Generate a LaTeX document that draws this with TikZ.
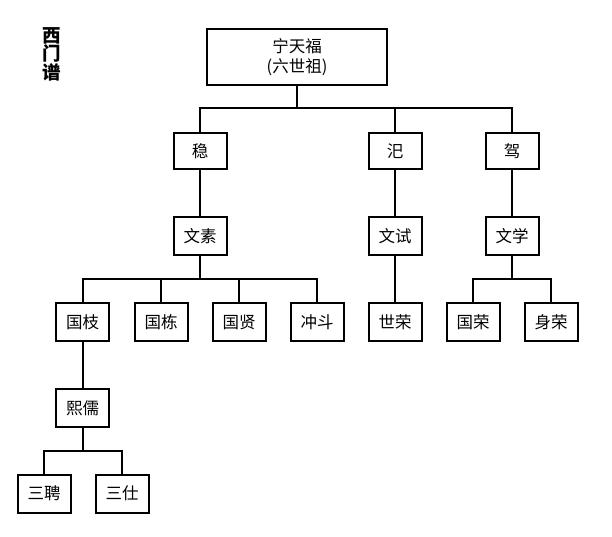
\documentclass[tikz,border=0pt]{standalone}
\usepackage{fontspec}
\newfontfamily\cjk{Noto Sans CJK SC}
\begin{document}
\begin{tikzpicture}[x=1pt,y=-1pt,
  box/.style={draw,line width=2pt,minimum width=53pt,minimum height=38pt,inner sep=0pt,font=\cjk\fontsize{16.5}{19}\selectfont},
  lvl/.style={box,minimum height=36pt},
  conn/.style={line width=2pt}]
\useasboundingbox (0,0) rectangle (612,536);
\node[font=\cjk\bfseries\fontsize{18.5}{18.7}\selectfont,align=center,anchor=north,inner sep=0pt] (title) at (52,27) {西\\门\\谱};
\node[box,minimum width=180pt,minimum height=56pt,align=center,font=\cjk\fontsize{16.5}{20.5}\selectfont] (root) at (297,57) {宁天福\\(六世祖)};
\node[lvl] (wen) at (200,151) {稳};
\node[lvl] (si) at (395,151) {汜};
\node[lvl] (jia) at (512,151) {驾};
\node[box] (wensu) at (200,236) {文素};
\node[box] (wenshi) at (395,236) {文试};
\node[box] (wenxue) at (512,236) {文学};
\node[box] (guozhi) at (82.5,322) {国枝};
\node[box] (guodong) at (161,322) {国栋};
\node[box] (guoxian) at (239,322) {国贤};
\node[box] (chongdou) at (317,322) {冲斗};
\node[box] (shirong) at (395,322) {世荣};
\node[box] (guorong) at (473,322) {国荣};
\node[box] (shenrong) at (551,322) {身荣};
\node[box] (xiru) at (82.5,408) {熙儒};
\node[box] (sanpin) at (44,493.5) {三聘};
\node[box] (sanshi) at (122,493.5) {三仕};
\coordinate (b1) at (297,108);
\coordinate (b2) at (200,279);
\coordinate (b3) at (512,279);
\coordinate (b4) at (82.5,451);
\draw[conn] (root.south) -- (b1);
\draw[conn] (wen.north) |- (b1);
\draw[conn] (jia.north) |- (b1);
\draw[conn] (si.north) -- (si.north |- b1);
\draw[conn] (wen.south) -- (wensu.north);
\draw[conn] (si.south) -- (wenshi.north);
\draw[conn] (jia.south) -- (wenxue.north);
\draw[conn] (wensu.south) -- (b2);
\draw[conn] (guozhi.north) |- (b2);
\draw[conn] (chongdou.north) |- (b2);
\draw[conn] (guodong.north) -- (guodong.north |- b2);
\draw[conn] (guoxian.north) -- (guoxian.north |- b2);
\draw[conn] (wenshi.south) -- (shirong.north);
\draw[conn] (wenxue.south) -- (b3);
\draw[conn] (guorong.north) |- (b3);
\draw[conn] (shenrong.north) |- (b3);
\draw[conn] (guozhi.south) -- (xiru.north);
\draw[conn] (xiru.south) -- (b4);
\draw[conn] (sanpin.north) |- (b4);
\draw[conn] (sanshi.north) |- (b4);
\end{tikzpicture}
\end{document}
